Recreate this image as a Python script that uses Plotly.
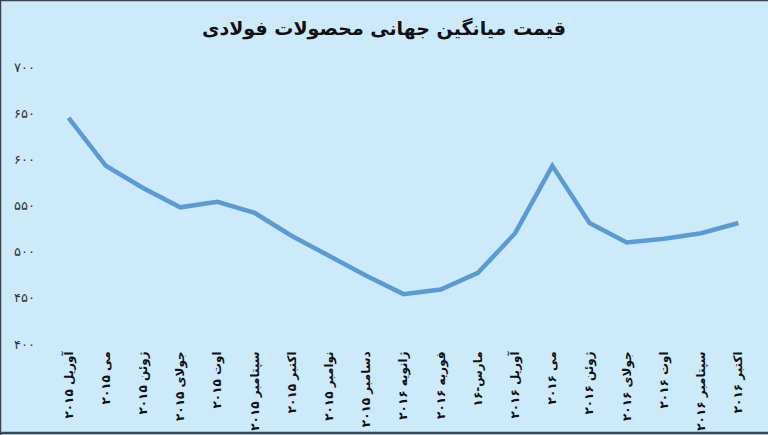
import plotly.graph_objects as go

categories = [
    "آوریل ۲۰۱۵", "می ۲۰۱۵", "ژوئن ۲۰۱۵", "جولای ۲۰۱۵", "اوت ۲۰۱۵",
    "سپتامبر ۲۰۱۵", "اکتبر ۲۰۱۵", "نوامبر ۲۰۱۵", "دسامبر ۲۰۱۵",
    "ژانویه ۲۰۱۶", "فوریه ۲۰۱۶", "مارس-۱۶", "آوریل ۲۰۱۶", "می ۲۰۱۶",
    "ژوئن ۲۰۱۶", "جولای ۲۰۱۶", "اوت ۲۰۱۶", "سپتامبر ۲۰۱۶", "اکتبر ۲۰۱۶",
]
prices = [645, 593, 569, 548, 554, 542, 517, 495, 474, 454, 459, 477,
          520, 593, 531, 510, 514, 520, 531]

y_tick_vals = [400, 450, 500, 550, 600, 650, 700]
y_tick_text = ["۴۰۰", "۴۵۰", "۵۰۰", "۵۵۰", "۶۰۰", "۶۵۰", "۷۰۰"]

title_text = "قیمت میانگین جهانی محصولات فولادی"

bg = "#cdeafb"
font_family = "DejaVu Sans"
border = dict(color="#3a4650", width=2.5)

# paper-coordinate extents of the full canvas
px0, px1 = -50 / 707, 1 + 11 / 707
py0, py1 = -91 / 277, 1 + 67 / 277

fig = go.Figure()
fig.add_trace(go.Scatter(
    x=categories, y=prices, mode="lines",
    line=dict(color="#5b9bd5", width=4.5),
    hoverinfo="x+y",
))

fig.update_layout(
    width=768, height=435, autosize=False,
    paper_bgcolor=bg, plot_bgcolor=bg,
    margin=dict(l=50, r=11, t=67, b=91, autoexpand=False),
    showlegend=False,
    font=dict(family=font_family, color="#222222"),
    title=dict(
        text="<b>" + title_text + "</b>",
        x=0.5, xanchor="center", y=0.935, yanchor="middle",
        font=dict(family=font_family, size=19, color="#111111"),
    ),
    xaxis=dict(
        type="category", tickangle=-90, showgrid=False, zeroline=False,
        range=[-0.5, len(categories) - 0.5], automargin=False,
        showline=False, ticks="", ticklabelstandoff=4,
        tickfont=dict(family=font_family, size=12, color="#111111",
                      weight="bold"),
    ),
    yaxis=dict(
        range=[400, 700], tickvals=y_tick_vals, ticktext=y_tick_text,
        automargin=False,
        showgrid=True, gridcolor="#dbe7ef", gridwidth=1, zeroline=False,
        showline=False, ticks="", ticklabelstandoff=14,
        tickfont=dict(family=font_family, size=13, color="#333333"),
    ),
    shapes=[
        dict(type="line", xref="paper", yref="paper", x0=px0, x1=px0,
             y0=py0, y1=py1, line=border, layer="above"),
        dict(type="line", xref="paper", yref="paper", x0=px0, x1=px1,
             y0=py1, y1=py1, line=border, layer="above"),
        dict(type="line", xref="paper", yref="paper", x0=px0, x1=px1,
             y0=py0 + 2 / 277, y1=py0 + 2 / 277, line=border, layer="above"),
    ],
)

fig.write_html(
    "out.html",
    config={"displayModeBar": False},
    post_script="document.body.style.margin='0';document.body.style.overflow='hidden';",
)
